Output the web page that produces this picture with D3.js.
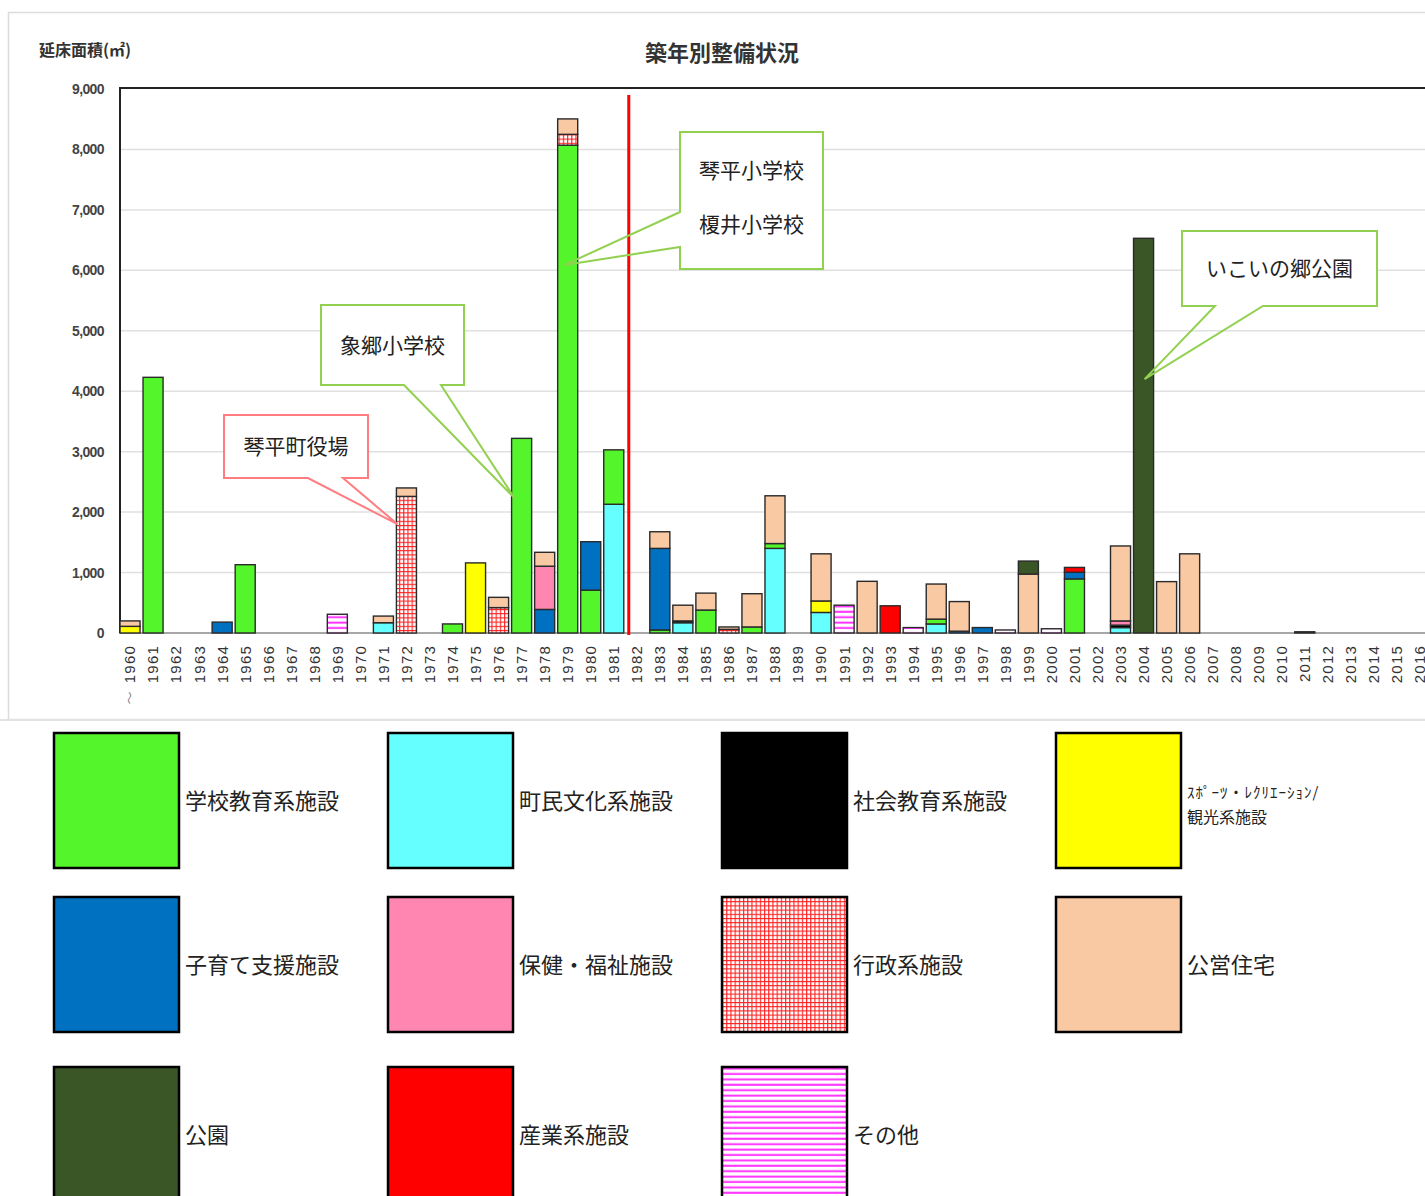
<!DOCTYPE html>
<html lang="ja">
<head>
<meta charset="utf-8">
<title>築年別整備状況</title>
<script src="https://d3js.org/d3.v7.min.js"></script>
<style>
  body { margin: 0; background: #fff; }
  svg { display: block; }
  .jp { font-family: "Noto Sans CJK JP", sans-serif; }
  .num { font-family: "Liberation Sans", Arial, sans-serif; }
</style>
</head>
<body>
<svg id="chart"></svg>
<script>
// years on the x axis
var years = [1960,1961,1962,1963,1964,1965,1966,1967,1968,1969,
             1970,1971,1972,1973,1974,1975,1976,1977,1978,1979,
             1980,1981,1982,1983,1984,1985,1986,1987,1988,1989,
             1990,1991,1992,1993,1994,1995,1996,1997,1998,1999,
             2000,2001,2002,2003,2004,2005,2006,2007,2008,2009,
             2010,2011,2012,2013,2014,2015,2016];
var yTicks = [0,1000,2000,3000,4000,5000,6000,7000,8000,9000];

// floor area (m2) per year, one array per facility type
var culture = [0,0,0,0,0,0,0,0,0,0, 0,170,0,0,0,0,0,0,0,0, 0,2130,0,0,170,0,0,0,1400,0,
               340,0,0,0,0,150,0,0,0,0, 0,0,0,90,0,0,0,0,0,0, 0,0,0,0,0,0,0];
var school  = [0,4230,0,0,0,1130,0,0,0,0, 0,0,0,0,150,0,0,3220,0,8070, 710,900,0,50,0,380,0,100,80,0,
               0,0,0,0,0,80,0,0,0,0, 0,895,0,0,0,0,0,0,0,0, 0,0,0,0,0,0,0];
var childcare = [0,0,0,0,180,0,0,0,0,0, 0,0,0,0,0,0,0,0,390,0, 800,0,0,1350,0,0,0,0,0,0,
               0,0,0,0,0,0,30,90,0,0, 0,110,0,0,0,0,0,0,0,0, 0,0,0,0,0,0,0];
var social  = [0,0,0,0,0,0,0,0,0,0, 0,0,0,0,0,0,0,0,0,0, 0,0,0,0,30,0,0,0,0,0,
               0,0,0,0,0,0,0,0,0,0, 0,0,0,40,0,0,0,0,0,0, 0,20,0,0,0,0,0];
var sports  = [110,0,0,0,0,0,0,0,0,0, 0,0,0,0,0,1160,0,0,0,0, 0,0,0,0,0,0,0,0,0,0,
               190,0,0,0,0,0,0,0,0,0, 0,0,0,0,0,0,0,0,0,0, 0,0,0,0,0,0,0];
var welfare = [0,0,0,0,0,0,0,0,0,0, 0,0,0,0,0,0,0,0,715,0, 0,0,0,0,0,0,0,0,0,0,
               0,0,0,0,0,0,0,0,0,0, 0,0,0,70,0,0,0,0,0,0, 0,0,0,0,0,0,0];
var admin   = [0,0,0,0,0,0,0,0,0,0, 0,0,2260,0,0,0,420,0,0,180, 0,0,0,0,0,0,60,0,0,0,
               0,0,0,0,0,0,0,0,0,0, 0,0,0,0,0,0,0,0,0,0, 0,0,0,0,0,0,0];
var housing = [90,0,0,0,0,0,0,0,0,0, 0,110,140,0,0,0,170,0,230,255, 0,0,0,275,260,280,40,550,790,0,
               780,0,855,0,0,580,490,0,0,975, 0,0,0,1240,0,850,1310,0,0,0, 0,0,0,0,0,0,0];
var park    = [0,0,0,0,0,0,0,0,0,0, 0,0,0,0,0,0,0,0,0,0, 0,0,0,0,0,0,0,0,0,0,
               0,0,0,0,0,0,0,0,0,215, 0,0,0,0,6530,0,0,0,0,0, 0,0,0,0,0,0,0];
var industry = [0,0,0,0,0,0,0,0,0,0, 0,0,0,0,0,0,0,0,0,0, 0,0,0,0,0,0,0,0,0,0,
               0,0,0,450,0,0,0,0,0,0, 0,80,0,0,0,0,0,0,0,0, 0,0,0,0,0,0,0];
var other   = [0,0,0,0,0,0,0,0,0,310, 0,0,0,0,0,0,0,0,0,0, 0,0,0,0,0,0,0,0,0,0,
               0,460,0,0,90,0,0,0,50,0, 70,0,0,0,0,0,0,0,0,0, 0,0,0,0,0,0,0];

// stacking order (bottom to top)
var keys = ["culture","school","childcare","social","sports","welfare","admin","housing","park","industry","other"];
var series = {culture: culture, school: school, childcare: childcare, social: social, sports: sports,
              welfare: welfare, admin: admin, housing: housing, park: park, industry: industry, other: other};
var labels = {
  school: "学校教育系施設", culture: "町民文化系施設", social: "社会教育系施設",
  sports: "ｽﾎﾟｰﾂ・ﾚｸﾘｴｰｼｮﾝ/\n観光系施設", childcare: "子育て支援施設", welfare: "保健・福祉施設",
  admin: "行政系施設", housing: "公営住宅", park: "公園", industry: "産業系施設", other: "その他"
};
var fills = {
  culture: "#66ffff", school: "#55f52c", childcare: "#0070c0", social: "#000000",
  sports: "#ffff00", welfare: "#ff86b0", admin: "url(#gridRed)", housing: "#f9c9a4",
  park: "#3a5526", industry: "#ff0000", other: "url(#stripeMag)"
};
var legendOrder = ["school","culture","social","sports","childcare","welfare","admin","housing","park","industry","other"];

// callouts: tip points at a year / value
var callouts = [
  {lines: ["琴平町役場"], color: "#ff7c80", box: [224, 415, 144, 63], side: "bottom", base: [308, 343], year: 1972, value: 1800, dx: -9},
  {lines: ["象郷小学校"], color: "#92d050", box: [321, 305, 143, 80], side: "bottom", base: [404, 441], year: 1977, value: 2230, dx: -7},
  {lines: ["琴平小学校", "榎井小学校"], color: "#92d050", box: [680, 132, 143, 137], side: "left", base: [212, 247], year: 1979, value: 6090, dx: -3},
  {lines: ["いこいの郷公園"], color: "#92d050", box: [1182, 231, 195, 75], side: "bottom", base: [1215, 1263], year: 2004, value: 4200, dx: 1}
];

var W = 1425, H = 1196;
var svg = d3.select("#chart").attr("width", W).attr("height", H);

var defs = svg.append("defs");
var pg = defs.append("pattern").attr("id", "gridRed").attr("patternUnits", "userSpaceOnUse")
  .attr("width", 4.2).attr("height", 4.2);
pg.append("rect").attr("width", 4.2).attr("height", 4.2).attr("fill", "#fff");
pg.append("path").attr("d", "M0 0.6 H4.2 M0.6 0 V4.2").attr("stroke", "#ff1a1a").attr("stroke-width", 1.1);
var ps = defs.append("pattern").attr("id", "stripeMag").attr("patternUnits", "userSpaceOnUse")
  .attr("width", 6).attr("height", 5.4);
ps.append("rect").attr("width", 6).attr("height", 5.4).attr("fill", "#fff");
ps.append("rect").attr("y", 0.6).attr("width", 6).attr("height", 2).attr("fill", "#ff33ff");

// outer frame of the chart image
svg.append("rect").attr("x", 8.5).attr("y", 12.5).attr("width", 1430).attr("height", 707)
  .attr("fill", "none").attr("stroke", "#dcdcdc").attr("stroke-width", 1.5);

var x = d3.scaleBand().domain(years).range([120, 1430]).paddingInner(0.13).paddingOuter(0);
var y = d3.scaleLinear().domain([0, 9000]).range([633, 89]);

// gridlines
svg.append("g").selectAll("line")
  .data(yTicks.filter(function (d) { return d > 0 && d < 9000; }))
  .join("line")
  .attr("x1", 120).attr("x2", W).attr("y1", function (d) { return y(d); }).attr("y2", function (d) { return y(d); })
  .attr("stroke", "#e0e0e0").attr("stroke-width", 1.5);

// baseline and frame lines
svg.append("line").attr("x1", 120).attr("x2", W).attr("y1", y(0)).attr("y2", y(0))
  .attr("stroke", "#8a8a8a").attr("stroke-width", 1.5);
svg.append("line").attr("x1", 119).attr("x2", W).attr("y1", y(9000) - 1).attr("y2", y(9000) - 1)
  .attr("stroke", "#222").attr("stroke-width", 2);
svg.append("line").attr("x1", 120).attr("x2", 120).attr("y1", y(9000) - 2).attr("y2", y(0))
  .attr("stroke", "#222").attr("stroke-width", 2);

// y axis
var yAxis = svg.append("g").attr("transform", "translate(120,0)")
  .call(d3.axisLeft(y).tickValues(yTicks).tickFormat(d3.format(",")).tickSize(0).tickPadding(16));
yAxis.select(".domain").remove();
yAxis.selectAll("text").attr("class", "num").style("font-size", "14px").style("letter-spacing", "-0.6px")
  .style("font-weight", "bold").attr("fill", "#444");

// x axis
var xAxis = svg.append("g").attr("transform", "translate(0," + y(0) + ")")
  .call(d3.axisBottom(x).tickSize(0));
xAxis.select(".domain").remove();
xAxis.selectAll("text")
  .attr("class", "num")
  .attr("transform", "rotate(-90)")
  .attr("x", -12).attr("y", 0).attr("dy", "0.36em")
  .style("text-anchor", "end").style("font-size", "15px").style("letter-spacing", "1.2px")
  .attr("fill", "#333");
svg.append("text").attr("class", "jp")
  .attr("transform", "translate(" + (x(1960) + x.bandwidth() / 2) + ",698) rotate(90)")
  .attr("text-anchor", "middle").attr("dy", "0.35em")
  .style("font-size", "13px").attr("fill", "#888").text("～");

// stacked bars
var table = years.map(function (yr, i) {
  var row = {year: yr};
  keys.forEach(function (k) { row[k] = series[k][i]; });
  return row;
});
var stacked = d3.stack().keys(keys)(table);

svg.append("g").selectAll("g")
  .data(stacked)
  .join("g")
  .attr("fill", function (s) { return fills[s.key]; })
  .selectAll("rect")
  .data(function (s) { return s.filter(function (d) { return d[1] > d[0]; }); })
  .join("rect")
  .attr("x", function (d) { return x(d.data.year); })
  .attr("width", x.bandwidth())
  .attr("y", function (d) { return y(d[1]); })
  .attr("height", function (d) { return y(d[0]) - y(d[1]); })
  .attr("stroke", "#2a2a2a").attr("stroke-width", 1.4);

// red divider between 1981 and 1982
svg.append("line")
  .attr("x1", x(1982) + 2).attr("x2", x(1982) + 2)
  .attr("y1", y(9000) + 6).attr("y2", y(0) + 2)
  .attr("stroke", "#ff0000").attr("stroke-width", 3);

// callouts
callouts.forEach(function (c) {
  var bx = c.box[0], by = c.box[1], bw = c.box[2], bh = c.box[3];
  var tx = x(c.year) + x.bandwidth() / 2 + c.dx, ty = y(c.value);
  var g = svg.append("g");
  g.append("rect").attr("x", bx).attr("y", by).attr("width", bw).attr("height", bh).attr("fill", "#fff");
  var p = d3.path();
  if (c.side === "bottom") {
    p.moveTo(bx, by); p.lineTo(bx + bw, by); p.lineTo(bx + bw, by + bh);
    p.lineTo(c.base[1], by + bh); p.lineTo(tx, ty); p.lineTo(c.base[0], by + bh);
    p.lineTo(bx, by + bh); p.closePath();
  } else {
    p.moveTo(bx, by); p.lineTo(bx + bw, by); p.lineTo(bx + bw, by + bh); p.lineTo(bx, by + bh);
    p.lineTo(bx, c.base[1]); p.lineTo(tx, ty); p.lineTo(bx, c.base[0]); p.closePath();
  }
  g.append("path").attr("d", p.toString()).attr("fill", "none")
    .attr("stroke", c.color).attr("stroke-width", 2);
  var gap = c.lines.length > 1 ? 54 : 0;
  var y0 = by + bh / 2 - gap * (c.lines.length - 1) / 2 - (c.lines.length > 1 ? 3 : 0);
  c.lines.forEach(function (t, i) {
    g.append("text").attr("class", "jp")
      .attr("x", bx + bw / 2).attr("y", y0 + i * gap).attr("dy", "0.36em")
      .attr("text-anchor", "middle").style("font-size", "21px").attr("fill", "#222").text(t);
  });
});

// titles
svg.append("text").attr("class", "jp").attr("x", 722).attr("y", 53).attr("dy", "0.36em")
  .attr("text-anchor", "middle").style("font-size", "22px").style("font-weight", "bold")
  .attr("fill", "#333").text("築年別整備状況");
svg.append("text").attr("class", "jp").attr("x", 39).attr("y", 50).attr("dy", "0.36em")
  .style("font-size", "16px").style("font-weight", "bold").attr("fill", "#333").text("延床面積(㎡)");

// legend
svg.append("line").attr("x1", 0).attr("x2", W).attr("y1", 720).attr("y2", 720)
  .attr("stroke", "#e2e2e2").attr("stroke-width", 2);
var rowY = [733, 897, 1067];
var leg = svg.append("g").selectAll("g")
  .data(legendOrder)
  .join("g")
  .attr("transform", function (k, i) { return "translate(" + (54 + (i % 4) * 334) + "," + rowY[Math.floor(i / 4)] + ")"; });
leg.append("rect").attr("x", 0).attr("y", 0).attr("width", 125).attr("height", 135)
  .attr("fill", function (k) { return fills[k]; })
  .attr("stroke", "#000").attr("stroke-width", 2.5);
leg.each(function (k) {
  var parts = labels[k].split("\n");
  var g = d3.select(this);
  if (parts.length === 1) {
    g.append("text").attr("class", "jp").attr("x", 131).attr("y", 68).attr("dy", "0.36em")
      .style("font-size", "22px").attr("fill", "#222").text(parts[0]);
  } else {
    parts.forEach(function (t, i) {
      g.append("text").attr("class", "jp").attr("x", 131).attr("y", 60 + i * 24).attr("dy", "0.36em")
        .style("font-size", i === 0 ? "15px" : "16px").style("letter-spacing", i === 0 ? "1px" : "0")
        .attr("fill", "#222").text(t);
    });
  }
});
</script>
</body>
</html>
